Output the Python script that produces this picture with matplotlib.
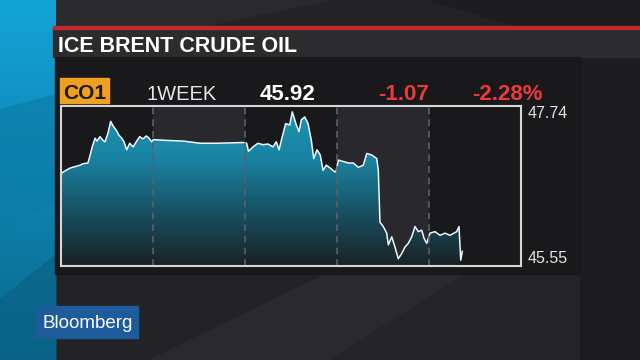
import matplotlib.pyplot as plt
import numpy as np
from matplotlib.patches import Rectangle, Polygon
from matplotlib.colors import LinearSegmentedColormap

plt.rcParams['font.family'] = ['Liberation Sans', 'DejaVu Sans']

# header values
title = "ICE BRENT CRUDE OIL"
ticker = "CO1"
period = "1WEEK"
last_price = "45.92"
net_change = "-1.07"
pct_change = "-2.28%"

# price path, x = trading days since start of the week
days = [0.005, 0.054, 0.098, 0.152, 0.207, 0.239, 0.293, 0.315, 0.337, 0.370,
        0.391, 0.424, 0.457, 0.478, 0.511, 0.540, 0.565, 0.605, 0.630, 0.660,
        0.685, 0.714, 0.747, 0.783, 0.818, 0.855, 0.891, 0.927, 0.957, 0.986,
        1.003, 1.130, 1.329, 1.511, 1.692, 1.982, 2.018, 2.038, 2.087, 2.141,
        2.196, 2.250, 2.304, 2.340, 2.370, 2.405, 2.442, 2.486, 2.514, 2.558,
        2.587, 2.612, 2.649, 2.685, 2.721, 2.747, 2.783, 2.818, 2.848, 2.884,
        2.927, 2.975, 2.989, 3.014, 3.068, 3.123, 3.177, 3.232, 3.286, 3.323,
        3.377, 3.432, 3.449, 3.467, 3.503, 3.540, 3.558, 3.595, 3.630, 3.666,
        3.703, 3.739, 3.775, 3.812, 3.848, 3.884, 3.921, 3.946, 3.975, 4.011,
        4.065, 4.120, 4.174, 4.228, 4.301, 4.326, 4.345, 4.362]
prices = [46.82, 46.86, 46.89, 46.91, 46.93, 46.95, 46.96, 47.06, 47.17, 47.30,
          47.26, 47.32, 47.27, 47.25, 47.37, 47.53, 47.47, 47.40, 47.34, 47.30,
          47.25, 47.14, 47.23, 47.18, 47.25, 47.32, 47.29, 47.33, 47.30, 47.25,
          47.28, 47.27, 47.26, 47.23, 47.23, 47.24, 47.23, 47.12, 47.18, 47.23,
          47.21, 47.22, 47.18, 47.25, 47.14, 47.32, 47.50, 47.48, 47.66, 47.48,
          47.39, 47.55, 47.59, 47.50, 47.27, 47.02, 47.14, 47.07, 46.86, 46.93,
          46.89, 46.84, 46.84, 47.00, 46.98, 46.96, 46.96, 46.90, 46.93, 47.09,
          47.07, 47.02, 46.86, 46.15, 46.09, 46.00, 45.84, 45.95, 45.81, 45.65,
          45.72, 45.81, 45.86, 45.95, 46.09, 46.02, 46.04, 45.93, 45.86, 46.00,
          46.02, 45.97, 46.00, 45.97, 46.02, 46.09, 45.63, 45.75]
y_low = 45.55
y_high = 47.74
n_days = 5

fig = plt.figure(figsize=(6.4, 3.6), dpi=100)

# background canvas in pixel units
bg = fig.add_axes([0, 0, 1, 1])
bg.set_xlim(0, 640)
bg.set_ylim(360, 0)
bg.axis('off')
bg.add_patch(Rectangle((0, 0), 640, 360, color='#232325'))
# faint facets
bg.add_patch(Polygon([(57, 0), (330, 0), (200, 27), (57, 27)], color='#2a2a2c'))
bg.add_patch(Polygon([(430, 0), (640, 0), (640, 27), (520, 27)], color='#1d1d1f'))
bg.add_patch(Polygon([(150, 360), (330, 272), (470, 272), (330, 360)], color='#2a2a2c'))
bg.add_patch(Polygon([(330, 360), (470, 272), (580, 272), (580, 360)], color='#252527'))
bg.add_patch(Rectangle((580, 57), 60, 303, color='#1d1d1f'))

# blue strip on the left
strip = np.linspace(0, 1, 256).reshape(-1, 1)
strip_cmap = LinearSegmentedColormap.from_list('strip', ['#13a4d6', '#0d86b4', '#0a6688'])
bg.imshow(strip, extent=[0, 56, 360, 0], cmap=strip_cmap, aspect='auto', zorder=1)
bg.add_patch(Polygon([(0, 110), (56, 95), (56, 200), (0, 230)], color='#0c7aa6', alpha=0.6, zorder=2))
bg.add_patch(Polygon([(0, 300), (56, 255), (56, 360), (0, 360)], color='#0a6386', alpha=0.7, zorder=2))
bg.set_xlim(0, 640)
bg.set_ylim(360, 0)

# title bar
bg.add_patch(Rectangle((53, 28), 587, 29, color='#2c2c2e', zorder=3))
bg.add_patch(Rectangle((53, 26), 587, 2.5, color='#c2282c', zorder=3))
bg.text(58, 52, title, color='white', weight='bold', size=15.5, va='baseline', zorder=4)

# quote panel
bg.add_patch(Rectangle((55, 57), 525, 217, color='#19191b', zorder=3))
bg.add_patch(Rectangle((60, 78), 49, 25, color='#f0a020', zorder=4))
bg.text(84.5, 99, ticker, color='#1c1a16', weight='bold', size=15, ha='center', va='baseline', zorder=5)
bg.text(147, 100, period, color='#e6e6e6', size=14.5, va='baseline', zorder=5)
bg.text(260, 100, last_price, color='white', weight='bold', size=16, va='baseline', zorder=5)
bg.text(378, 100, net_change, color='#ec3a3c', weight='bold', size=16, va='baseline', zorder=5)
bg.text(472, 100, pct_change, color='#ec3a3c', weight='bold', size=16, va='baseline', zorder=5)

# logo
bg.add_patch(Rectangle((36, 306), 102, 32, color='#1e5b9b', zorder=3))
bg.text(42, 328, "Bloomberg", color='white', size=13.5, va='baseline', zorder=4)

# chart
ax = fig.add_axes([61 / 640, 1 - 266 / 360, 460 / 640, 160 / 360])
ax.set_facecolor('#19191b')
for i in range(n_days):
    if i % 2 == 1:
        ax.axvspan(i, i + 1, color='#29292d', lw=0, zorder=0)

grad = np.linspace(1, 0, 256).reshape(-1, 1)
fill_cmap = LinearSegmentedColormap.from_list('fill', ['#1a2226', '#175468', '#1a8cad', '#1fa2c4'])
im = ax.imshow(grad, extent=[0, n_days, y_low, y_high], cmap=fill_cmap, aspect='auto',
               origin='upper', alpha=0.92, zorder=2)
area = ax.fill_between(days, prices, y_low, color='none', lw=0)
im.set_clip_path(area.get_paths()[0], transform=ax.transData)

ax.plot(days, prices, color='#eef7fa', lw=1.1, zorder=3)
for i in range(1, n_days):
    ax.axvline(i, color='#5c5f66', lw=1.2, ls=(0, (4, 3)), zorder=4)

ax.set_xlim(0, n_days)
ax.set_ylim(y_low, y_high)
ax.set_xticks([])
ax.yaxis.tick_right()
ax.set_yticks([y_low, y_high])
ax.set_yticklabels([f"{y_low:.2f}", f"{y_high:.2f}"])
ax.tick_params(axis='y', length=0, pad=4.5, labelsize=11.5, labelcolor='#e2e2e2')
labels = ax.get_yticklabels()
labels[0].set_va('bottom')
labels[1].set_va('top')
for s in ax.spines.values():
    s.set_color('#d6d6d6')
    s.set_linewidth(1.5)
    s.set_zorder(5)

fig.savefig('out.png', dpi=100)
